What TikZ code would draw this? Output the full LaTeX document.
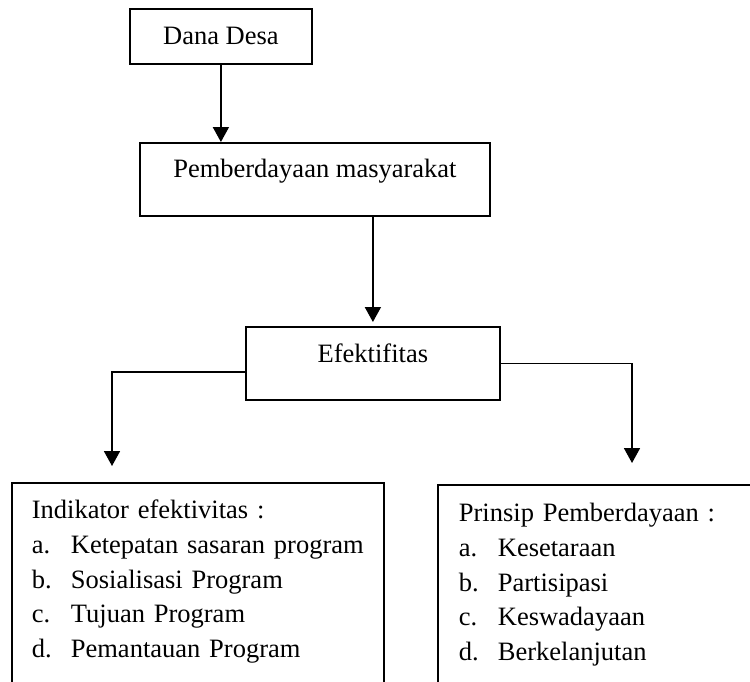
\documentclass[tikz,border=0pt]{standalone}
\usepackage{fontspec}
\setmainfont{Liberation Serif}
\usetikzlibrary{arrows.meta}
\begin{document}
\begin{tikzpicture}
[
    x=1pt, y=-1pt,
    every node/.style={font=\fontsize{26.5}{34.6}\selectfont},
    box/.style={draw, line width=1.8pt, inner sep=0pt, anchor=north west},
    listbox/.style={draw, line width=1.8pt, anchor=north west, align=left,
        inner ysep=10pt, text height=26pt, text depth=300pt},
    link/.style={line width=1.8pt, -{Triangle[width=16pt,length=15pt]}},
]
\useasboundingbox (0,0) rectangle (750,681);
\clip (0,0) rectangle (750,681);
\node[box, minimum width=182pt, text height=36pt, text depth=19pt] (dana) at (129,8) {Dana Desa};
\node[box, minimum width=350pt, text height=35pt, text depth=38pt] (pemb) at (139,142) {Pemberdayaan masyarakat};
\node[box, minimum width=254pt, text height=36pt, text depth=37pt] (efek) at (245,326) {Efektifitas};
\node[listbox, inner xsep=20pt, text width=332pt] (indikator) at (11,482) {Indikator efektivitas :\\
    \makebox[39pt][l]{a.}Ketepatan sasaran program\\
    \makebox[39pt][l]{b.}Sosialisasi Program\\
    \makebox[39pt][l]{c.}Tujuan Program\\
    \makebox[39pt][l]{d.}Pemantauan Program};
\node[listbox, inner xsep=21pt, text width=400pt, text height=27pt] (prinsip) at (437,484) {Prinsip Pemberdayaan :\\
    \makebox[39pt][l]{a.}Kesetaraan\\
    \makebox[39pt][l]{b.}Partisipasi\\
    \makebox[39pt][l]{c.}Keswadayaan\\
    \makebox[39pt][l]{d.}Berkelanjutan};
\coordinate (indtop) at (112,466);
\coordinate (prinstop) at (632,463);
\draw[link] (dana.south) -- (dana.south |- pemb.north);
\draw[link] (efek.north |- pemb.south) -- ([yshift=4pt]efek.north);
\draw[link] ([yshift=-8.5pt]efek.west) -| (indtop);
\draw[link] (efek.east) -| (prinstop);
\end{tikzpicture}
\end{document}
